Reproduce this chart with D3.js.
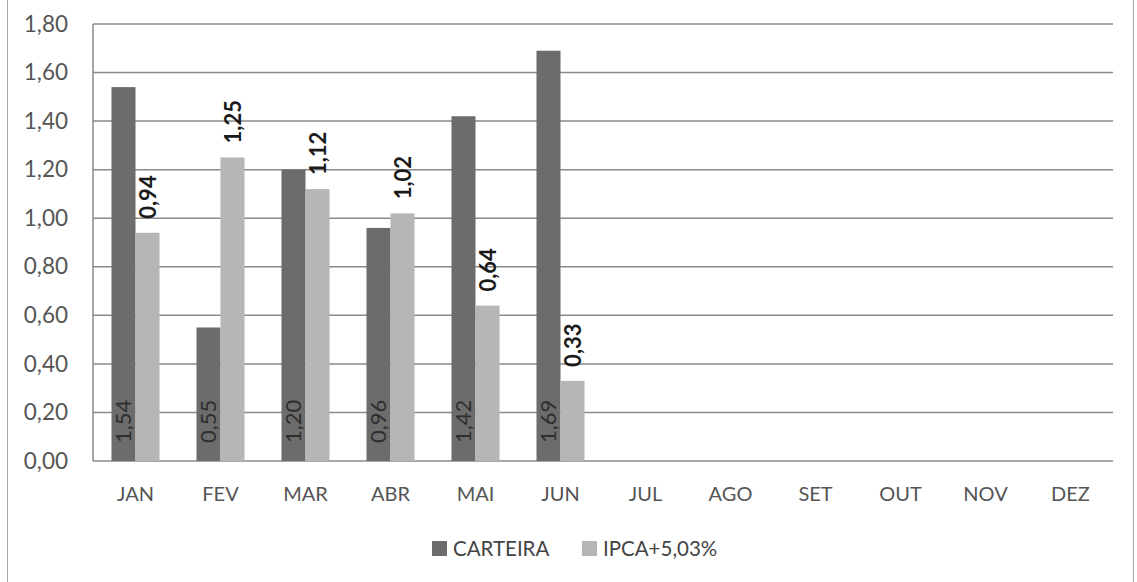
<!DOCTYPE html>
<html>
<head>
<meta charset="utf-8">
<script src="https://cdn.jsdelivr.net/npm/d3@7"></script>
<style>
  html, body { margin: 0; padding: 0; background: #ffffff; }
  svg { display: block; }
</style>
</head>
<body>
<script>
// Monthly returns: portfolio vs. benchmark (IPCA + 5,03%)
const months = ["JAN", "FEV", "MAR", "ABR", "MAI", "JUN", "JUL", "AGO", "SET", "OUT", "NOV", "DEZ"];
const carteira = [1.54, 0.55, 1.20, 0.96, 1.42, 1.69];
const ipca = [0.94, 1.25, 1.12, 1.02, 0.64, 0.33];
const seriesNames = ["CARTEIRA", "IPCA+5,03%"];
const yTicks = [0, 0.2, 0.4, 0.6, 0.8, 1.0, 1.2, 1.4, 1.6, 1.8];

const W = 1137, H = 582;
const plot = { left: 93, right: 1113, top: 24, bottom: 461 };
const colors = ["#6c6c6c", "#b6b6b6"];
const font = "Lato, 'Open Sans', sans-serif";
const fmt = v => d3.format(".2f")(v).replace(".", ",");

const svg = d3.select("body").append("svg").attr("width", W).attr("height", H);

// Chart frame
svg.append("rect")
  .attr("x", 7.5).attr("y", -2).attr("width", 1126).attr("height", H + 4)
  .attr("fill", "none").attr("stroke", "#a8a8a8").attr("stroke-width", 1);

const x = d3.scaleBand().domain(months)
  .range([plot.left, plot.right]).paddingInner(0.435).paddingOuter(0.2175);
const xs = d3.scaleBand().domain(seriesNames).range([0, x.bandwidth()]);
const y = d3.scaleLinear().domain([0, 1.8]).range([plot.bottom, plot.top]);

// Horizontal gridlines
svg.append("g").selectAll("line").data(yTicks).join("line")
  .attr("x1", plot.left).attr("x2", plot.right)
  .attr("y1", d => y(d)).attr("y2", d => y(d))
  .attr("stroke", "#8a8a8a").attr("stroke-width", 1.5);

// Vertical axis line
svg.append("line")
  .attr("x1", plot.left).attr("x2", plot.left)
  .attr("y1", plot.top).attr("y2", plot.bottom)
  .attr("stroke", "#8a8a8a").attr("stroke-width", 1.5);

// Y axis labels
const yAxis = d3.axisLeft(y).tickValues(yTicks).tickFormat(fmt).tickSize(0).tickPadding(25);
svg.append("g").attr("transform", `translate(${plot.left},0)`).call(yAxis)
  .call(g => g.select(".domain").remove())
  .selectAll("text")
  .attr("font-family", font).attr("font-size", 22.5).attr("fill", "#555555");

// X axis labels
const xAxis = d3.axisBottom(x).tickSize(0).tickPadding(26);
svg.append("g").attr("transform", `translate(0,${plot.bottom})`).call(xAxis)
  .call(g => g.select(".domain").remove())
  .selectAll("text")
  .attr("font-family", font).attr("font-size", 20).attr("fill", "#555555");

const data = [carteira, ipca];

// Bars
data.forEach((vals, si) => {
  svg.append("g").selectAll("rect").data(vals).join("rect")
    .attr("x", (d, i) => x(months[i]) + xs(seriesNames[si]))
    .attr("width", xs.bandwidth())
    .attr("y", d => y(d))
    .attr("height", d => y(0) - y(d))
    .attr("fill", colors[si]);
});

// CARTEIRA labels: inside base, rotated
svg.append("g").selectAll("text").data(carteira).join("text")
  .attr("transform", (d, i) => {
    const cx = x(months[i]) + xs(seriesNames[0]) + xs.bandwidth() / 2;
    return `translate(${cx + 8},${y(0) - 18}) rotate(-90)`;
  })
  .attr("text-anchor", "start")
  .attr("font-family", font).attr("font-size", 22).attr("fill", "#2e2e2e")
  .text(fmt);

// IPCA labels: above bar end, rotated
svg.append("g").selectAll("text").data(ipca).join("text")
  .attr("transform", (d, i) => {
    const cx = x(months[i]) + xs(seriesNames[1]) + xs.bandwidth() / 2;
    return `translate(${cx + 8},${y(d) - 14}) rotate(-90)`;
  })
  .attr("text-anchor", "start")
  .attr("font-family", font).attr("font-size", 22).attr("font-weight", "bold").attr("fill", "#1a1a1a")
  .text(fmt);

// Legend
const legend = svg.append("g");
const legendItems = [{ name: seriesNames[0], x: 432 }, { name: seriesNames[1], x: 582 }];
legendItems.forEach((it, i) => {
  legend.append("rect").attr("x", it.x).attr("y", 541).attr("width", 15).attr("height", 15)
    .attr("fill", colors[i]);
  legend.append("text").attr("x", it.x + 21).attr("y", 556)
    .attr("font-family", font).attr("font-size", 20.5).attr("fill", "#444444")
    .text(it.name);
});
</script>
</body>
</html>
